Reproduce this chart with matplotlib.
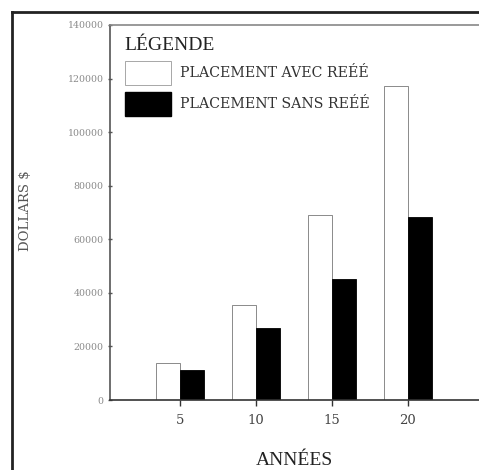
import matplotlib.pyplot as plt
from matplotlib.patches import Patch
from matplotlib.lines import Line2D
from matplotlib.font_manager import FontProperties

# donnees
annees = [5, 10, 15, 20]
avec_reee = [13800, 35500, 69000, 117200]
sans_reee = [11200, 26900, 45200, 68300]
yticks = [0, 20000, 40000, 60000, 80000, 100000, 120000, 140000]

plt.rcParams['font.family'] = ['Liberation Serif', 'DejaVu Serif']
petit = 'DejaVu Serif'

fig = plt.figure(figsize=(4.79, 4.70), dpi=100)
ax = fig.add_axes([110 / 479, 70 / 470, 369 / 479, 375 / 470])

larg = 1.58
ax.bar([a - larg / 2 for a in annees], avec_reee, width=larg, color='white',
       edgecolor='#777777', linewidth=0.6)
ax.bar([a + larg / 2 for a in annees], sans_reee, width=larg, color='black',
       edgecolor='black', linewidth=0.6)

ax.set_xlim(0.4, 24.7)
ax.set_ylim(0, 140000)
ax.set_xticks(annees)
ax.set_xticklabels([str(a) for a in annees], fontsize=9.5, color='#444444',
                   family=petit)
ax.set_yticks(yticks)
ax.set_yticklabels([str(v) for v in yticks], fontsize=6.8, color='#8a8a8a',
                   family=petit)
ax.tick_params(axis='y', direction='inout', length=3, width=1, color='#555555', pad=3)
ax.tick_params(axis='x', direction='out', length=4, width=1, color='#333333', pad=6)

ax.spines['right'].set_visible(False)
ax.spines['left'].set_color('#555555')
ax.spines['left'].set_linewidth(1.2)
ax.spines['bottom'].set_color('#333333')
ax.spines['bottom'].set_linewidth(1.2)
ax.spines['top'].set_color('#888888')
ax.spines['top'].set_linewidth(1.2)

ax.set_xlabel('ANNÉES', fontsize=14, color='#222222', labelpad=18)
fig.text(26 / 479, 1 - 211 / 470, 'DOLLARS $', rotation=90, fontsize=9.5,
         color='#555555', ha='center', va='center', family=petit)

handles = [Patch(facecolor='white', edgecolor='#999999', linewidth=0.6),
           Patch(facecolor='black', edgecolor='black')]
leg = ax.legend(handles, ['PLACEMENT AVEC REÉÉ', 'PLACEMENT SANS REÉÉ'],
                title='LÉGENDE', loc='upper left', bbox_to_anchor=(0.04, 0.968),
                frameon=False, prop=FontProperties(family=petit, size=10.2),
                title_fontproperties=FontProperties(family='Liberation Serif', size=14),
                handlelength=3.25, handleheight=2.2, handletextpad=0.62,
                labelspacing=0.5, borderpad=0, borderaxespad=0)
leg._legend_box.align = 'left'
for t in leg.get_texts():
    t.set_color('#333333')
leg.get_title().set_color('#222222')

# cadre exterieur
fig.add_artist(Line2D([12 / 479, 12 / 479], [0, 1 - 12 / 470], color='#222222',
                      linewidth=2, transform=fig.transFigure))
fig.add_artist(Line2D([12 / 479, 1], [1 - 12 / 470, 1 - 12 / 470], color='#222222',
                      linewidth=2, transform=fig.transFigure))

fig.savefig('out.png', dpi=100)
